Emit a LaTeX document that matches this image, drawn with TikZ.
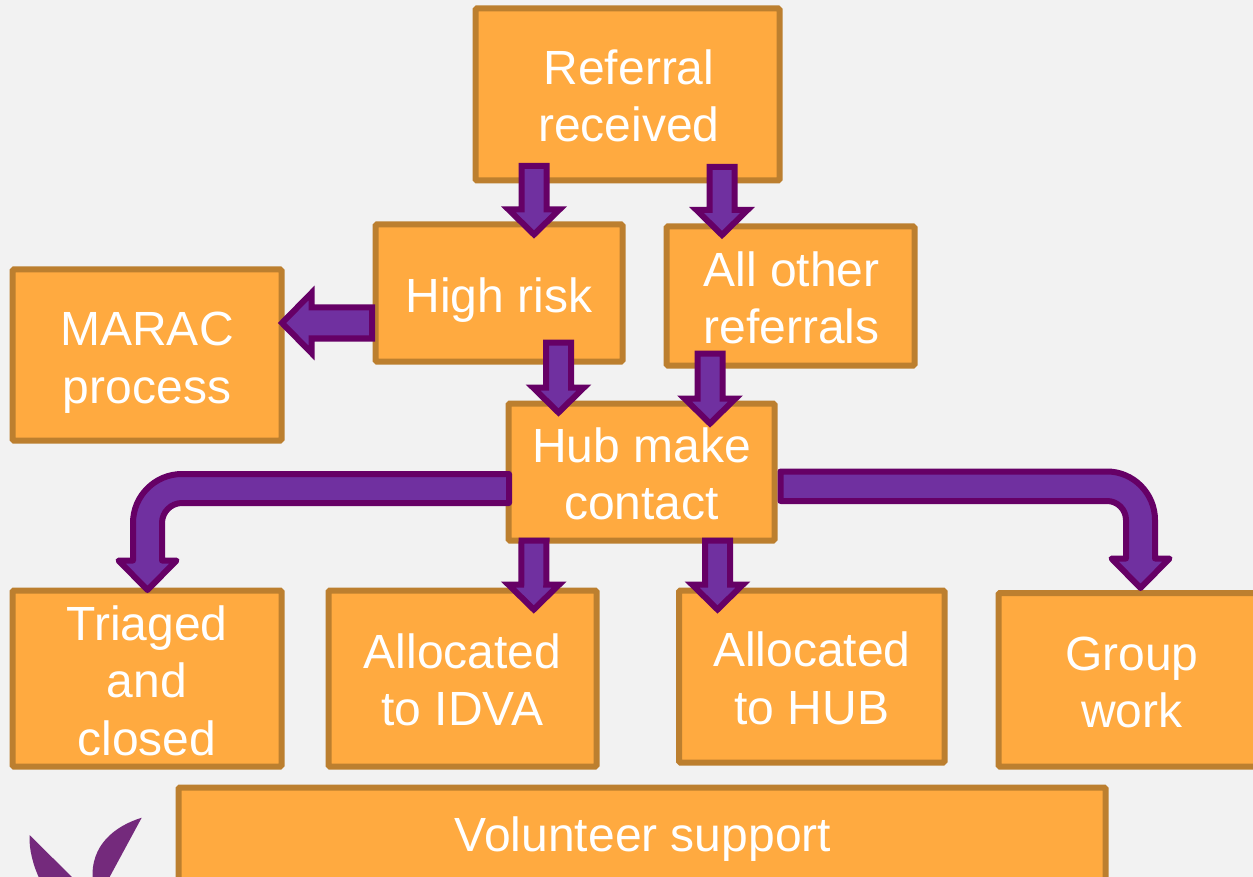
\documentclass[tikz,border=0pt]{standalone}
\usepackage{fontspec}
\setmainfont{Liberation Sans}
\usetikzlibrary{calc}
\definecolor{bg}{HTML}{F2F2F2}
\definecolor{boxfill}{HTML}{FFAA40}
\definecolor{boxline}{HTML}{BC7F2F}
\definecolor{arrfill}{HTML}{7030A0}
\definecolor{arrline}{HTML}{660066}
\definecolor{logo}{HTML}{742A7C}
\tikzset{
  flowbox/.style={draw=boxline,fill=boxfill,line width=4.5pt,inner sep=0pt,outer sep=0pt,
    text=white,align=center,font=\fontsize{36}{42.75}\selectfont,rounded corners=1pt},
  blockarrow/.style={draw=arrline,fill=arrfill,line width=4.5pt,miter limit=10},
  curvedarrow/.style={blockarrow,line join=round}
}
% name, x1,y1,x2,y2 (pixels), text
\newcommand\flowbox[6]{%
  \pgfmathsetmacro\bw{(#4-#2)*0.75}\pgfmathsetmacro\bh{(#5-#3)*0.75}%
  \node[flowbox,minimum width=\bw pt,minimum height=\bh pt] (#1) at ({(#2+#4)/2},{(#3+#5)/2}) {#6};}
% one line of text: [space before], lowered by, text
\newcommand\tl[3][0pt]{\raisebox{-#2}[\height][\depth]{\hspace*{#1}#3}}
\newcommand\downblock[2]{%
  \coordinate (s) at #1; \coordinate (e) at #2;
  \draw[blockarrow] ($(s)+(-12.5,0)$) -- ($(e)+(-12.5,-25)$) -- ($(e)+(-25.5,-25)$) -- (e)
    -- ($(e)+(25.5,-25)$) -- ($(e)+(12.5,-25)$) -- ($(s)+(12.5,0)$) -- cycle;}
\begin{document}
\begin{tikzpicture}[x=0.75pt,y=-0.75pt]
\useasboundingbox (0,0) rectangle (1253,877);
\clip (0,0) rectangle (1253,877);
\fill[bg] (0,0) rectangle (1253,877);
% logo leaves
\fill[logo] (29.5,835) .. controls (29,850) and (33,865) .. (40,880) -- (75,880) -- cycle;
\fill[logo] (141.7,817.7) .. controls (115,826) and (90,845) .. (92.7,880) -- (108,880) -- cycle;
% boxes
\flowbox{ref}{475.5}{8.5}{779.5}{180.5}{\tl[2.25pt]{0.75pt}{Referral}\\\tl[2.25pt]{0.75pt}{received}}
\flowbox{high}{375.5}{224.5}{622.5}{361.5}{\tl{5.25pt}{High risk}}
\flowbox{all}{666.5}{226.5}{914.5}{365.5}{\tl[1.5pt]{1.5pt}{All other}\\\tl[1.5pt]{1.5pt}{referrals}}
\flowbox{marac}{12.5}{269.5}{281.5}{440.5}{\tl{5.25pt}{MARAC}\\\tl{6pt}{process}}
\flowbox{hub}{508.5}{403.5}{774.5}{540.5}{\tl{1.5pt}{Hub make}\\\tl{1.5pt}{contact}}
\flowbox{tri}{12.5}{590.5}{281.5}{766.5}{\tl{1.5pt}{Triaged}\\\tl{1.5pt}{and}\\\tl{2.25pt}{closed}}
\flowbox{idva}{328.5}{590.5}{596.5}{766.5}{\tl{0.75pt}{Allocated}\\\tl{0.75pt}{to IDVA}}
\flowbox{hubb}{679}{590.5}{944.5}{762.5}{\tl{0.75pt}{Allocated}\\\tl{1.5pt}{to HUB}}
\flowbox{grp}{998.5}{593}{1258}{766.5}{\tl[5.25pt]{2.25pt}{Group}\\\tl[5.25pt]{2.25pt}{work}}
\flowbox{vol}{178.5}{787.5}{1105.5}{885}{\tl[1.5pt]{2.25pt}{Volunteer support}}
% straight block arrows
\downblock{($(ref.south)+(-93.5,-14.5)$)}{($(high.north)+(35,10)$)}
\downblock{($(ref.south)+(94.5,-13.5)$)}{($(all.north)+(-68.5,8.5)$)}
\downblock{($(high.south)+(59.5,-19)$)}{($(hub.north)+(-83,9)$)}
\downblock{($(all.south)+(-80.5,-12)$)}{($(hub.north)+(68.5,20)$)}
\downblock{($(hub.south)+(-107.5,0)$)}{($(idva.north)+(71.25,19)$)}
\downblock{($(hub.south)+(76,0)$)}{($(hubb.north)+(-94.25,19)$)}
% high risk to MARAC
\coordinate (s) at ($(high.west)+(-3.5,30)$);
\coordinate (e) at ($(marac.east)+(0.5,-32)$);
\draw[blockarrow] ($(s)+(0,-15.5)$) -- ($(e)+(29.5,-15.5)$) -- ($(e)+(29.5,-30)$) -- (e)
  -- ($(e)+(29.5,30)$) -- ($(e)+(29.5,15.5)$) -- ($(s)+(0,15.5)$) -- cycle;
% hub to triaged
\coordinate (s) at ($(hub.west)+(0.5,16.5)$);
\coordinate (e) at ($(tri.north)+(0.5,-0.5)$);
\draw[curvedarrow] ($(s)+(0,-14.5)$) -- ($(e)+(34.5,-116)$)
  .. controls ($(e)+(7.5,-116)$) and ($(e)+(-14.5,-94)$) .. ($(e)+(-14.5,-67)$)
  -- ($(e)+(-14.5,-29.5)$) -- ($(e)+(-29,-29.5)$) -- (e) -- ($(e)+(29,-29.5)$) -- ($(e)+(14.5,-29.5)$)
  -- ($(e)+(14.5,-67)$)
  .. controls ($(e)+(14.5,-78)$) and ($(e)+(23.5,-87)$) .. ($(e)+(34.5,-87)$)
  -- ($(s)+(0,14.5)$) -- cycle;
% hub to group work
\coordinate (s) at ($(hub.east)+(6,14.25)$);
\coordinate (e) at ($(grp.north)+(12.25,-5)$);
\draw[curvedarrow] ($(s)+(0,-14.75)$) -- ($(e)+(-33.5,-116.5)$)
  .. controls ($(e)+(-7,-116.5)$) and ($(e)+(14.5,-94.5)$) .. ($(e)+(14.5,-68)$)
  -- ($(e)+(14.5,-29.5)$) -- ($(e)+(29,-29.5)$) -- (e) -- ($(e)+(-29,-29.5)$) -- ($(e)+(-14.5,-29.5)$)
  -- ($(e)+(-14.5,-68)$)
  .. controls ($(e)+(-14.5,-78.5)$) and ($(e)+(-23,-87)$) .. ($(e)+(-33.5,-87)$)
  -- ($(s)+(0,14.75)$) -- cycle;
\end{tikzpicture}
\end{document}
